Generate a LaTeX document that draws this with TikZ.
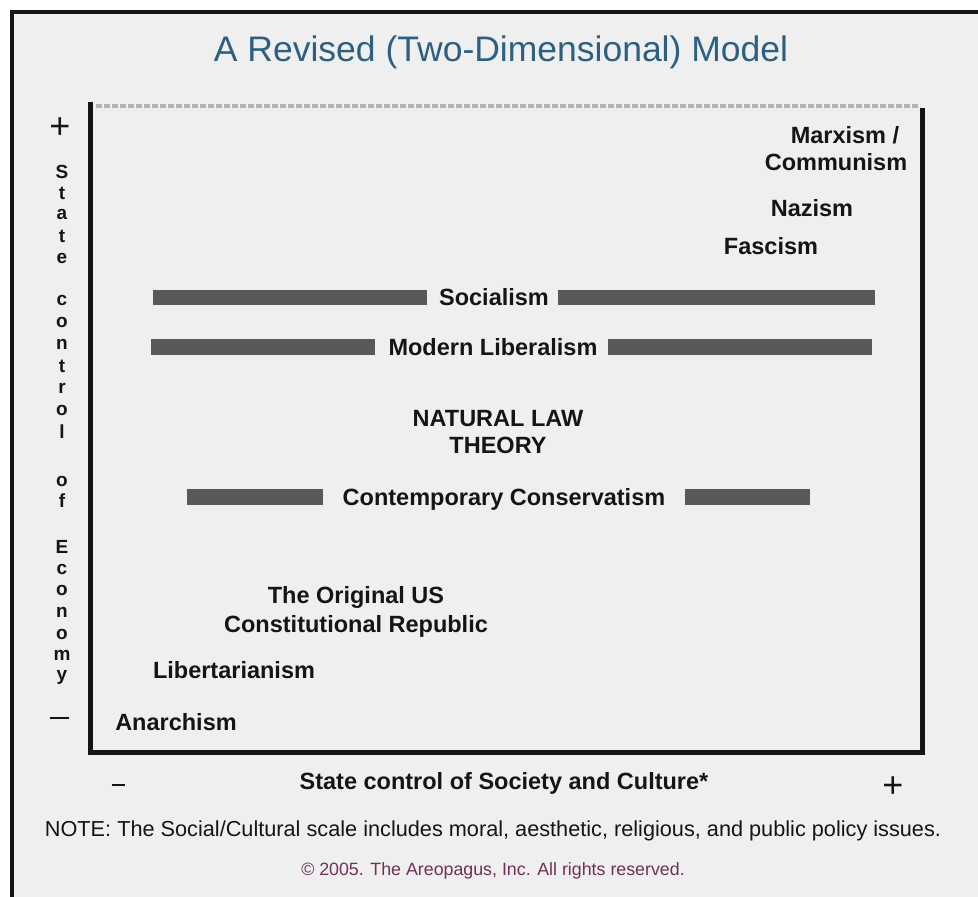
\documentclass[tikz,border=0pt]{standalone}
\usepackage{fontspec}
\setmainfont{Liberation Sans}
\begin{document}
\definecolor{paper}{HTML}{EFEFEF}
\definecolor{titleblue}{RGB}{45,96,128}
\definecolor{barcol}{HTML}{595959}
\definecolor{dashgray}{HTML}{B4B4B4}
\definecolor{ink}{HTML}{151515}
\definecolor{copyc}{RGB}{112,48,88}
\begin{tikzpicture}[x=1pt,y=-1pt,
  lbl/.style={font=\bfseries\fontsize{23.5}{28}\selectfont, text=ink, inner sep=0pt, text height=17pt, text depth=0pt},
  axl/.style={font=\bfseries\fontsize{19}{20}\selectfont, text=ink, inner sep=0pt},
  sign/.style={font=\fontsize{36}{38}\selectfont, text=ink, inner sep=0pt},
  bar/.style={fill=barcol, draw=none},
  axis/.style={draw=ink, line width=5pt, line cap=rect},
]
% page and outer frame
\useasboundingbox (0,0) rectangle (978,897);
\fill[white] (0,0) rectangle (978,897);
\fill[paper] (10,10) rectangle (978,897);
\draw[ink, line width=4pt] (12,897) -- (12,12) -- (978,12);

% title
\node[font=\fontsize{35.5}{40}\selectfont, text=titleblue, inner sep=0pt, text height=26pt, text depth=0pt] (title) at (501,48) {A Revised (Two-Dimensional) Model};

% plot frame
\draw[dashgray, line width=4pt, dash pattern=on 6pt off 2pt] (96,106) -- (920,106);
\draw[axis] (90,104) -- (90,752) -- (922,752) -- (922,110);

% vertical axis caption
\node[sign] (yplus) at (60,128) {+};
\foreach \ch/\yy in {S/172,t/193,a/214,t/236,e/258,
                     c/300,o/322,n/344,t/366,r/388,o/410,l/432,
                     o/481,f/501,
                     E/547,c/569,o/590,n/612,o/634,m/655,y/677}
  \node[axl] at (62,\yy) {\ch};
\node[inner sep=0pt] (yminus) at (59,718) {\color{ink}\rule{19pt}{2.2pt}};

% horizontal axis caption
\node[inner sep=0pt] (xminus) at (118,785) {\color{ink}\rule{13pt}{2.6pt}};
\node[sign] (xplus) at (893,787) {+};
\node[lbl] (xcap) at (504,781) {State control of Society and Culture*};

% footnotes
\node[font=\fontsize{21.7}{24}\selectfont, text=ink, inner sep=0pt] (note) at (493,831) {NOTE: The Social/Cultural scale includes moral, aesthetic, religious, and public policy issues.};
\node[font=\fontsize{17.8}{20}\selectfont, text=copyc, inner sep=0pt] (copy) at (493,871) {\textcopyright\ 2005. The Areopagus, Inc. All rights reserved.};

% ideologies
\node[lbl] (marx) at (845,135) {Marxism /};
\node[lbl] (comm) at (836,162) {Communism};
\node[lbl] (nazi) at (812,208) {Nazism};
\node[lbl] (fasc) at (771,246) {Fascism};

\fill[bar] (153,290) rectangle (427,305);
\node[lbl] (soc) at (494,297) {Socialism};
\fill[bar] (558,290) rectangle (875,305);

\fill[bar] (151,339) rectangle (375,355);
\node[lbl] (lib) at (493,347) {Modern Liberalism};
\fill[bar] (608,339) rectangle (872,355);

\node[lbl] (nat1) at (498,418) {NATURAL LAW};
\node[lbl] (nat2) at (498,445) {THEORY};

\fill[bar] (187,489) rectangle (323,505);
\node[lbl] (cons) at (504,497) {Contemporary Conservatism};
\fill[bar] (685,489) rectangle (810,505);

\node[lbl] (us1) at (356,595) {The Original US};
\node[lbl] (us2) at (356,624) {Constitutional Republic};
\node[lbl] (libt) at (234,670) {Libertarianism};
\node[lbl] (anar) at (176,722) {Anarchism};
\end{tikzpicture}
\end{document}
